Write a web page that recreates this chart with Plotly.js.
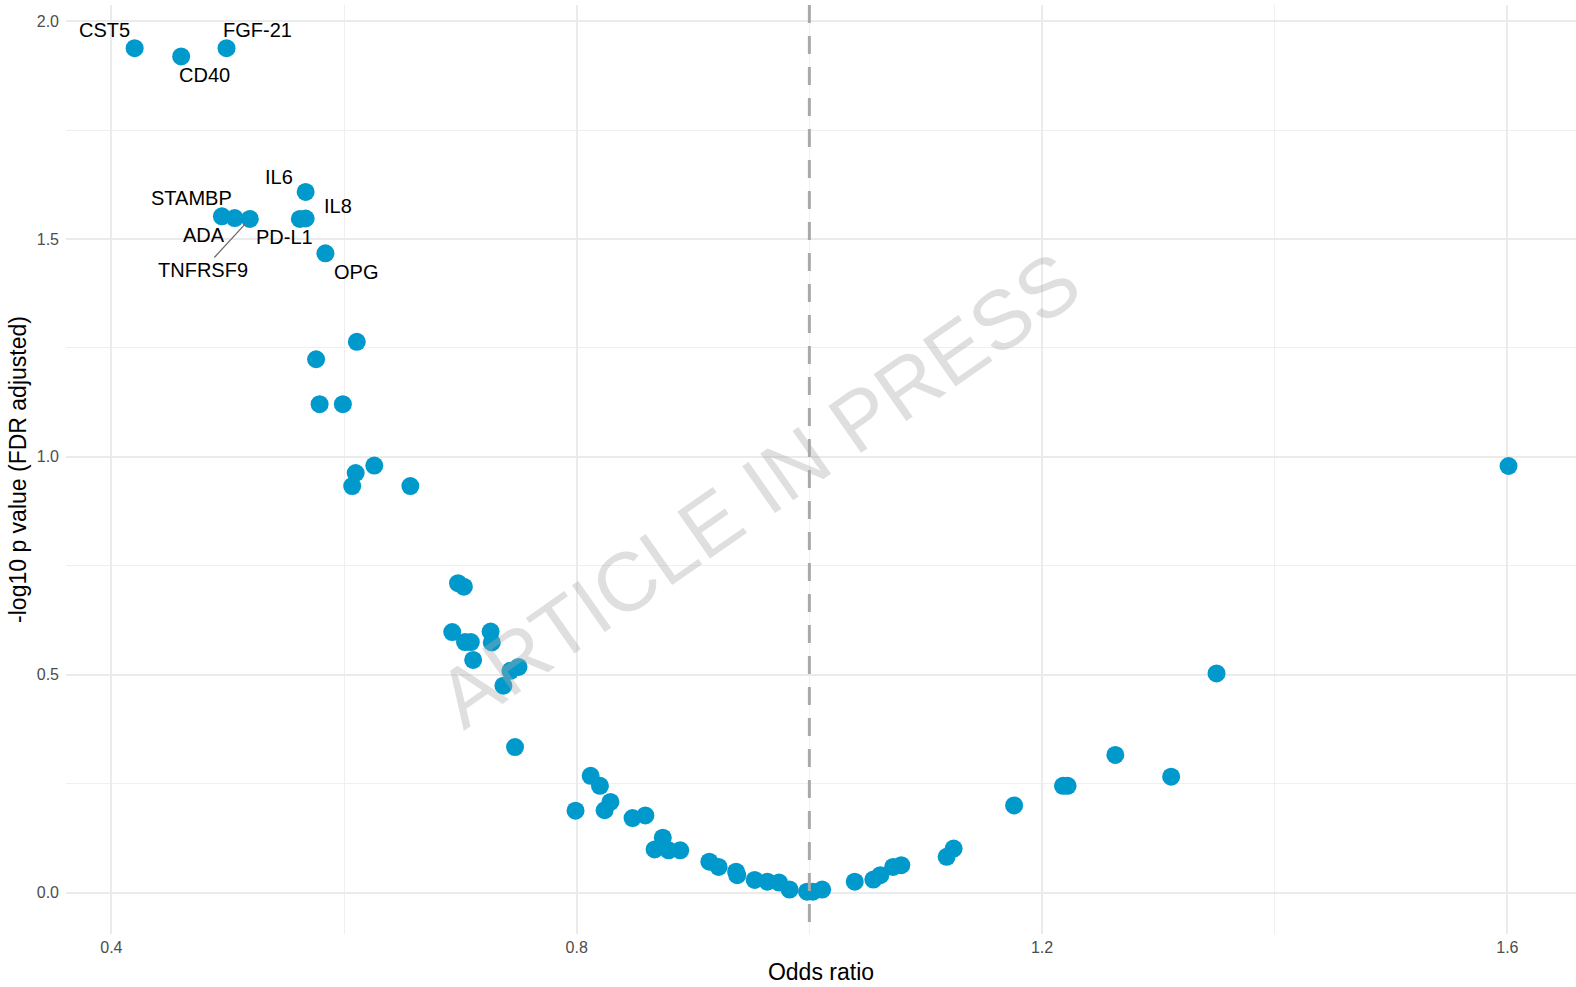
<!DOCTYPE html>
<html>
<head>
<meta charset="utf-8">
<script src="https://cdn.plot.ly/plotly-3.0.1.min.js"></script>
<style>html,body{margin:0;padding:0;background:#fff;}#chart{width:1576px;height:987px;}</style>
</head>
<body>
<div id="chart"></div>
<script>
// Labelled proteins
const labelNames = ["CST5","CD40","FGF-21","STAMBP","ADA","TNFRSF9","IL6","PD-L1","IL8","OPG"];
const labelOR    = [0.420, 0.460, 0.499, 0.495, 0.506, 0.519, 0.567, 0.562, 0.567, 0.584];
const labelLogP  = [1.938, 1.919, 1.938, 1.552, 1.548, 1.546, 1.608, 1.546, 1.547, 1.467];

// Unlabelled proteins
const otherOR = [0.611,0.576,0.579,0.599,0.626,0.610,0.607,0.657,
  0.698,0.703,0.693,0.704,0.709,0.726,0.727,0.711,0.750,0.743,0.737,0.747,
  0.799,0.812,0.820,0.829,0.824,0.848,0.859,0.874,0.867,0.879,0.889,
  0.914,0.922,0.937,0.938,0.953,0.964,0.974,0.983,0.998,1.003,1.011,
  1.039,1.055,1.061,1.072,1.079,1.118,1.124,1.176,1.218,1.222,1.263,1.311,1.350,1.601];
const otherLogP = [1.264,1.224,1.121,1.121,0.980,0.963,0.933,0.933,
  0.710,0.702,0.598,0.575,0.575,0.599,0.574,0.534,0.518,0.509,0.475,0.334,
  0.188,0.268,0.245,0.208,0.189,0.171,0.177,0.126,0.099,0.097,0.097,
  0.071,0.059,0.048,0.040,0.029,0.025,0.023,0.007,0.002,0.002,0.007,
  0.025,0.030,0.040,0.059,0.063,0.082,0.101,0.200,0.245,0.245,0.316,0.266,0.503,0.979];

const xTicks = [0.4, 0.8, 1.2, 1.6];
const yTicks = [0.0, 0.5, 1.0, 1.5, 2.0];

// label offsets in pixels (layout, not data)
const labelShift = {
  "CST5":[-30,18], "CD40":[23,-19], "FGF-21":[31,18], "STAMBP":[-30,18],
  "ADA":[-31,-17], "TNFRSF9":[-47,-51], "IL6":[-27,15], "PD-L1":[-15,-18],
  "IL8":[32,13], "OPG":[31,-19]
};

const FONT = "Liberation Sans, Arial, Helvetica, sans-serif";
const POINT = "#0099cc";

const allOR = labelOR.concat(otherOR);
const allP = labelLogP.concat(otherLogP);

const trace = {
  type: "scatter", mode: "markers",
  x: allOR, y: allP,
  marker: {color: POINT, size: 18, line: {width: 0}},
  hoverinfo: "x+y"
};

const annotations = labelNames.map((n, i) => {
  const s = labelShift[n];
  if (n === "TNFRSF9") {
    return {x: labelOR[i], y: labelLogP[i], xref: "x", yref: "y", text: n,
      showarrow: true, arrowhead: 0, arrowwidth: 1.3, arrowcolor: "#6e6e6e",
      ax: s[0], ay: -s[1], standoff: 7,
      font: {family: FONT, size: 20, color: "#000"}};
  }
  return {x: labelOR[i], y: labelLogP[i], xref: "x", yref: "y", text: n,
    showarrow: false, xshift: s[0], yshift: s[1],
    font: {family: FONT, size: 20, color: "#000"}};
});

annotations.push({
  xref: "paper", yref: "paper", x: 0.459, y: 0.478,
  xanchor: "center", yanchor: "middle",
  text: "ARTICLE IN PRESS", showarrow: false, textangle: -35,
  font: {family: FONT, size: 83, color: "rgba(170,170,170,0.38)"}
});

const layout = {
  width: 1576, height: 987,
  paper_bgcolor: "#fff", plot_bgcolor: "#fff",
  margin: {l: 66, r: 0, t: 5, b: 53},
  showlegend: false,
  font: {family: FONT},
  xaxis: {
    range: [0.361, 1.659], tickvals: xTicks, ticktext: xTicks.map(v => v.toFixed(1)),
    showgrid: true, gridcolor: "#ebebeb", gridwidth: 2, zeroline: false,
    minor: {dtick: 0.2, tick0: 0.4, showgrid: true, gridcolor: "#efefef", gridwidth: 1},
    ticks: "", ticklabelstandoff: 2,
    tickfont: {family: FONT, size: 16, color: "#4d4d4d"},
    showline: false, automargin: true,
    title: {text: "Odds ratio", font: {family: FONT, size: 23, color: "#000"}, standoff: 8}
  },
  yaxis: {
    range: [-0.095, 2.037], tickvals: yTicks, ticktext: yTicks.map(v => v.toFixed(1)),
    showgrid: true, gridcolor: "#ebebeb", gridwidth: 2, zeroline: false,
    minor: {dtick: 0.25, tick0: 0, showgrid: true, gridcolor: "#efefef", gridwidth: 1},
    ticks: "", ticklabelstandoff: 6,
    tickfont: {family: FONT, size: 16, color: "#4d4d4d"},
    showline: false, automargin: true,
    title: {text: "-log10 p value (FDR adjusted)", font: {family: FONT, size: 23, color: "#000"}, standoff: 3}
  },
  shapes: [{
    type: "line", xref: "x", yref: "paper", x0: 1, x1: 1, y0: 1, y1: 0,
    line: {color: "#a9a9a9", width: 3, dash: "18px,13px"}, layer: "above"
  }],
  annotations: annotations
};

Plotly.newPlot("chart", [trace], layout, {displayModeBar: false, staticPlot: true});
</script>
</body>
</html>
